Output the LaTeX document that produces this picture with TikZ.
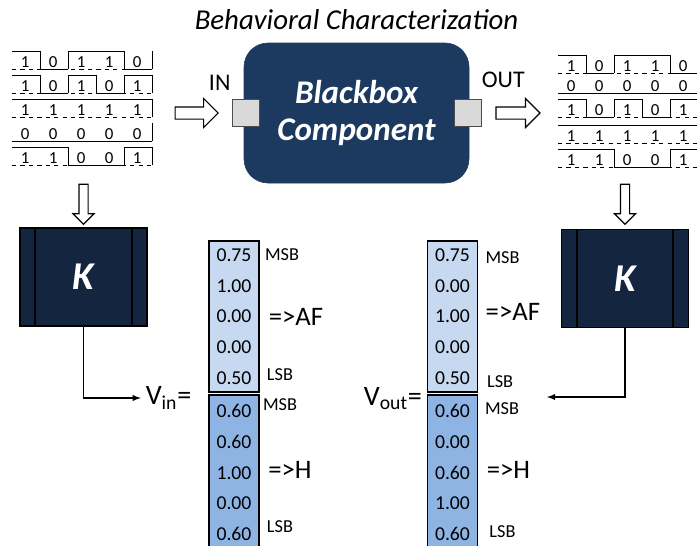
\documentclass[tikz,border=0pt]{standalone}
\usepackage{fontspec}
\setmainfont{Carlito}
\usetikzlibrary{positioning,shapes,arrows}
\definecolor{boxblue}{RGB}{28,57,96}
\definecolor{kblue}{RGB}{20,37,63}
\definecolor{afblue}{RGB}{198,217,241}
\definecolor{hblue}{RGB}{142,180,227}
\definecolor{portgray}{RGB}{217,217,217}
\tikzstyle{bb}=[draw=boxblue, fill=boxblue, rounded corners=0.6cm, minimum width=5.625cm, minimum height=3.5cm, text=white, align=center, font=\fontsize{23.5}{26}\selectfont\bfseries\itshape]
\tikzstyle{port}=[draw=black!70, fill=portgray, minimum size=0.675cm, inner sep=0pt]
\tikzstyle{kbox}=[draw=black, fill=kblue, line width=1.3pt, minimum width=3.175cm, minimum height=2.45cm, text=white, font=\fontsize{28}{30}\selectfont\bfseries\itshape]
\tikzstyle{vec}=[draw, line width=1.2pt, minimum width=1.25cm, align=center, inner sep=0pt, font=\fontsize{14}{21.8}\selectfont]
\tikzstyle{fat}=[single arrow, draw, fill=white, thick, inner xsep=0pt]
\tikzstyle{sb}=[font=\fontsize{13}{13}\selectfont]
\tikzstyle{res}=[font=\fontsize{19}{19}\selectfont]
\tikzstyle{vlab}=[font=\fontsize{20}{22}\selectfont]
\tikzstyle{bit}=[inner sep=0pt, font=\fontsize{12}{12}\selectfont]
% one row of a bit stream: name, x, y of top, bits
\newcommand{\waverow}[4]{%
  \draw[dashed, line width=0.5pt] (#2,#3-0.45) -- ++(3.5,0);
  \foreach \b [count=\i, remember=\b as \p (initially 2)] in {#4} {
    \pgfmathsetmacro{\xa}{#2+0.7*(\i-1)}
    \ifnum\b=1 \def\lev{0}\else\def\lev{0.45}\fi
    \draw[line width=0.6pt] (\xa,#3-\lev) -- ++(0.7,0);
    \ifnum\i>1 \ifnum\b=\p\else \draw[line width=0.6pt] (\xa,#3) -- ++(0,-0.45); \fi\fi
    \node[bit] (#1\i) at (\xa+0.33,#3-0.28) {\b};
  }
  \draw[line width=0.6pt] (#2+3.5,#3) -- ++(0,-0.45);
}

\begin{document}
\begin{tikzpicture}[node distance=2cm,auto,>=latex]
\useasboundingbox (0,0) rectangle (17.425,-13.65);

% input streams
\waverow{ina}{0.3}{-1.275}{1,0,1,1,0}
\waverow{inb}{0.3}{-1.875}{1,0,1,0,1}
\waverow{inc}{0.3}{-2.475}{1,1,1,1,1}
\waverow{ind}{0.3}{-3.075}{0,0,0,0,0}
\waverow{ine}{0.3}{-3.675}{1,1,0,0,1}

% output streams
\waverow{outa}{13.95}{-1.375}{1,0,1,1,0}
\waverow{outb}{13.95}{-1.875}{0,0,0,0,0}
\waverow{outc}{13.95}{-2.475}{1,0,1,0,1}
\waverow{outd}{13.95}{-3.125}{1,1,1,1,1}
\waverow{oute}{13.95}{-3.725}{1,1,0,0,1}

\node[bb] at (8.9125,-2.825) (bb) {Blackbox\\Component};
\node[above of = bb, node distance = 2.325cm, font=\fontsize{20.5}{22}\selectfont\itshape] (title) {Behavioral Characterization};
\node[port, xshift = 0.04cm] at (bb.west) (inport) {};
\node[port, xshift = -0.04cm] at (bb.east) (outport) {};
\node[above of = inport, node distance = 0.76cm, xshift = -0.64cm, font=\fontsize{17}{17}\selectfont] (inlbl) {IN};
\node[above of = outport, node distance = 0.84cm, xshift = 0.89cm, font=\fontsize{17}{17}\selectfont] (outlbl) {OUT};
\node[fat, minimum height = 1.075cm, inner ysep = 0.1375cm, single arrow head extend = 0.2125cm] at (4.84,-2.825) (inarrow) {};
\node[fat, minimum height = 1.1cm, inner ysep = 0.1375cm, single arrow head extend = 0.2125cm] at (12.875,-2.825) (outarrow) {};

% K blocks
\node[kbox] at (2.0875,-6.925) (kin) {K};
\draw[line width=1.5pt] ([xshift=0.4cm]kin.north west) -- ([xshift=0.4cm]kin.south west);
\draw[line width=1.5pt] ([xshift=-0.4cm]kin.north east) -- ([xshift=-0.4cm]kin.south east);
\node[fat, rotate = -90, minimum height = 1cm, inner ysep = 0.1cm, single arrow head extend = 0.15cm] at ([yshift = 1.875cm]kin.center) (kinarrow) {};

\node[kbox] at (15.625,-6.9625) (kout) {K};
\draw[line width=1.5pt] ([xshift=0.4cm]kout.north west) -- ([xshift=0.4cm]kout.south west);
\draw[line width=1.5pt] ([xshift=-0.4cm]kout.north east) -- ([xshift=-0.4cm]kout.south east);
\node[fat, rotate = -90, minimum height = 1cm, inner ysep = 0.1cm, single arrow head extend = 0.15cm] at ([yshift = 1.9125cm]kout.center) (koutarrow) {};

% vectors
\node[vec, fill=afblue, minimum height = 3.775cm] at (5.85,-7.9125) (afin) {0.75\\1.00\\0.00\\0.00\\0.50};
\node[vec, fill=hblue, minimum height = 3.875cm, below of = afin, node distance = 3.9cm] (hin) {0.60\\0.60\\1.00\\0.00\\0.60};
\node[vec, fill=afblue, minimum height = 3.775cm, right of = afin, node distance = 5.4625cm] (afout) {0.75\\0.00\\1.00\\0.00\\0.50};
\node[vec, fill=hblue, minimum height = 3.875cm, below of = afout, node distance = 3.9cm] (hout) {0.60\\0.00\\0.60\\1.00\\0.60};

\node[sb, right of = afin, node distance = 1.2cm, yshift = 1.54cm] (afinmsb) {MSB};
\node[res, right of = afin, node distance = 1.55cm] (afinres) {=>AF};
\node[sb, right of = afin, node distance = 1.15cm, yshift = -1.46cm] (afinlsb) {LSB};
\node[sb, right of = hin, node distance = 1.15cm, yshift = 1.69cm] (hinmsb) {MSB};
\node[res, right of = hin, node distance = 1.4cm, yshift = 0.06cm] (hinres) {=>H};
\node[sb, right of = hin, node distance = 1.15cm, yshift = -1.36cm] (hinlsb) {LSB};

\node[sb, right of = afout, node distance = 1.25cm, yshift = 1.46cm] (afoutmsb) {MSB};
\node[res, right of = afout, node distance = 1.51cm, yshift = 0.11cm] (afoutres) {=>AF};
\node[sb, right of = afout, node distance = 1.19cm, yshift = -1.64cm] (afoutlsb) {LSB};
\node[sb, right of = hout, node distance = 1.24cm, yshift = 1.59cm] (houtmsb) {MSB};
\node[res, right of = hout, node distance = 1.4cm, yshift = 0.06cm] (houtres) {=>H};
\node[sb, right of = hout, node distance = 1.25cm, yshift = -1.49cm] (houtlsb) {LSB};

\node[vlab, anchor = west] at (3.52,-9.95) (vin) {V\textsubscript{in}=};
\node[vlab, anchor = east] at (10.67,-9.97) (vout) {V\textsubscript{out}=};

\draw[->, line width = 1pt] (kin.south) |- (vin.west);
\coordinate (vouttip) at (13.675,-9.925);
\draw[->, line width = 1pt] (kout.south) |- (vouttip);
\end{tikzpicture}
\end{document}
